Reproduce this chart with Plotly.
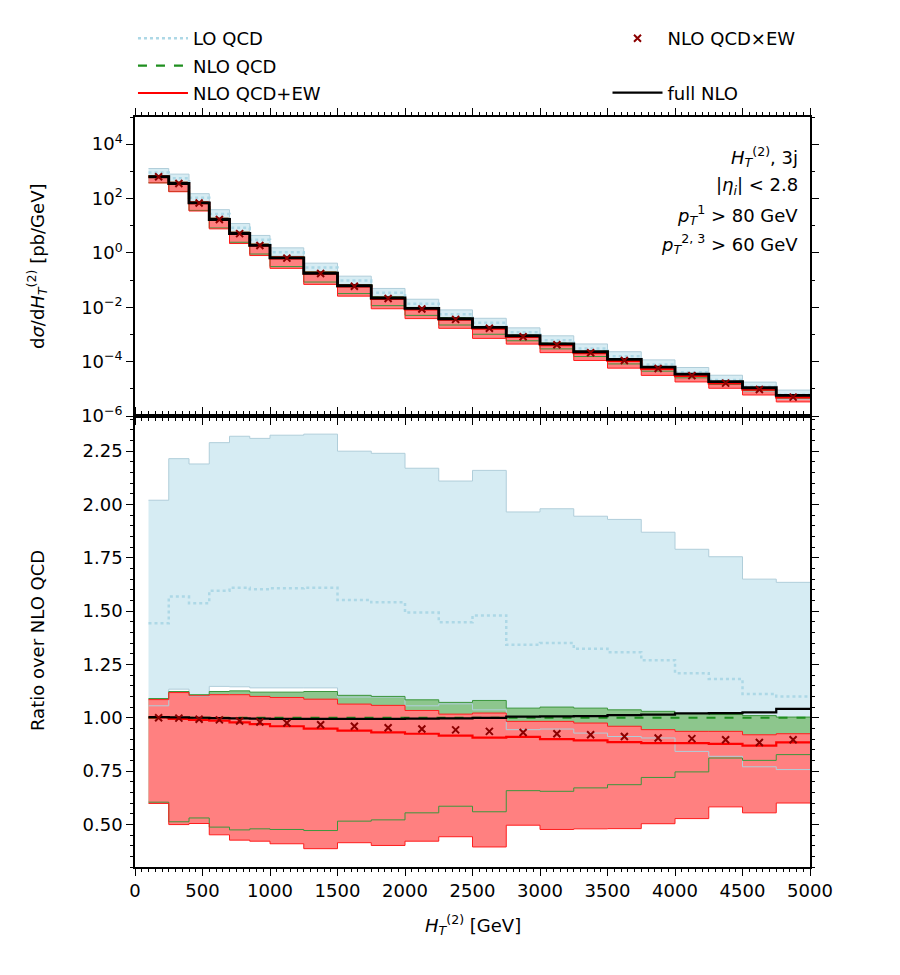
import plotly.graph_objects as go

# ---------------- data ----------------
edges = [100, 250, 400, 550, 700, 850, 1000, 1250, 1500, 1750, 2000, 2250, 2500,
         2750, 3000, 3250, 3500, 3750, 4000, 4250, 4500, 4750, 5000]

# NLO QCD central cross section [pb/GeV]
nlo_qcd_xs = [630, 357, 69, 17, 5.2, 1.9, 0.66, 0.18, 0.062, 0.022, 0.0091, 0.0038,
              1.82e-3, 8.9e-4, 4.5e-4, 2.3e-4, 1.2e-4, 6.2e-5, 3.4e-5, 1.8e-5, 1.07e-5, 5.5e-6]

# ratios over NLO QCD
lo_central = [1.443, 1.568, 1.537, 1.596, 1.610, 1.602, 1.607, 1.610, 1.552, 1.541, 1.493,
              1.448, 1.480, 1.342, 1.350, 1.323, 1.307, 1.270, 1.209, 1.182, 1.111, 1.100]
lo_up = [2.02, 2.215, 2.19, 2.29, 2.32, 2.31, 2.325, 2.33, 2.25, 2.24, 2.17,
         2.11, 2.16, 1.965, 1.98, 1.945, 1.93, 1.87, 1.79, 1.755, 1.65, 1.635]
lo_dn = [1.056, 1.134, 1.10, 1.147, 1.145, 1.14, 1.14, 1.14, 1.097, 1.097, 1.056,
         1.065, 1.037, 0.944, 0.947, 0.928, 0.912, 0.905, 0.842, 0.819, 0.770, 0.757]

nlo_central = [1.0] * 22
nlo_up = [1.09, 1.123, 1.108, 1.123, 1.126, 1.12, 1.12, 1.123, 1.105, 1.10, 1.084,
          1.072, 1.081, 1.045, 1.05, 1.045, 1.037, 1.03, 1.02, 1.015, 1.01, 1.003]
nlo_dn = [0.604, 0.512, 0.53, 0.487, 0.474, 0.479, 0.476, 0.471, 0.515, 0.521, 0.554,
          0.585, 0.559, 0.658, 0.655, 0.671, 0.686, 0.72, 0.746, 0.811, 0.80, 0.827]

ew_central = [1.001, 0.995, 0.99, 0.986, 0.978, 0.97, 0.96, 0.949, 0.94, 0.931, 0.925,
              0.916, 0.907, 0.91, 0.90, 0.894, 0.886, 0.881, 0.881, 0.877, 0.869, 0.884]
ew_up = [1.085, 1.118, 1.103, 1.108, 1.108, 1.10, 1.095, 1.087, 1.064, 1.058, 1.034,
         1.017, 1.022, 0.983, 0.983, 0.975, 0.96, 0.944, 0.936, 0.936, 0.92, 0.925]
ew_dn = [0.598, 0.499, 0.504, 0.451, 0.426, 0.421, 0.409, 0.386, 0.414, 0.401, 0.421,
         0.442, 0.394, 0.496, 0.476, 0.479, 0.48, 0.503, 0.527, 0.582, 0.554, 0.60]

full_nlo = [1.003, 1.002, 1.0, 0.998, 0.997, 0.996, 0.995, 0.995, 0.995, 0.995, 0.996,
            0.997, 0.999, 1.005, 1.006, 1.008, 1.012, 1.015, 1.02, 1.022, 1.025, 1.042]
qcd_x_ew = [1.0, 0.998, 0.993, 0.99, 0.985, 0.98, 0.975, 0.967, 0.96, 0.953, 0.947,
            0.943, 0.936, 0.931, 0.925, 0.92, 0.912, 0.905, 0.902, 0.897, 0.884, 0.897]

top_tickvals = [1e-6, 1e-4, 1e-2, 1e0, 1e2, 1e4]
top_ticktext = ["10<sup>−6</sup>", "10<sup>−4</sup>", "10<sup>−2</sup>",
                "10<sup>0</sup>", "10<sup>2</sup>", "10<sup>4</sup>"]
top_minor = [1e-5, 1e-3, 1e-1, 1e1, 1e3, 1e5]
ratio_tickvals = [0.5, 0.75, 1.0, 1.25, 1.5, 1.75, 2.0, 2.25]
ratio_ticktext = ["0.50", "0.75", "1.00", "1.25", "1.50", "1.75", "2.00", "2.25"]

# ---------------- styling ----------------
FONT = "DejaVu Sans"
LB = "#add8e6"
LB_FILL = "rgb(214,236,243)"
LB_EDGE = "rgb(176,206,218)"
G_FILL = "rgb(141,198,141)"
G_EDGE = "rgb(60,150,60)"
R_FILL = "rgb(255,128,128)"
R_EDGE = "rgb(255,30,30)"
DARKRED = "#8b0000"


def step(v):
    return list(v) + [v[-1]]


centers = [(edges[i] + edges[i + 1]) / 2 for i in range(len(edges) - 1)]

fig = go.Figure()


def add_panel(scale, xa, ya, lw_scale, legend):
    def sc(r):
        return [a * b for a, b in zip(r, scale)]

    # bands (fills)
    for dn, up, fc in [(lo_dn, lo_up, LB_FILL), (nlo_dn, nlo_up, G_FILL), (ew_dn, ew_up, R_FILL)]:
        fig.add_trace(go.Scatter(x=edges, y=step(sc(dn)), mode="lines", line=dict(width=0, shape="hv"),
                                 showlegend=False, hoverinfo="skip", xaxis=xa, yaxis=ya))
        fig.add_trace(go.Scatter(x=edges, y=step(sc(up)), mode="lines", line=dict(width=0, shape="hv"),
                                 fill="tonexty", fillcolor=fc, showlegend=False, hoverinfo="skip",
                                 xaxis=xa, yaxis=ya))
    # band edges
    for arr, col in [(lo_dn, LB_EDGE), (lo_up, LB_EDGE), (nlo_dn, G_EDGE), (nlo_up, G_EDGE),
                     (ew_dn, R_EDGE), (ew_up, R_EDGE)]:
        fig.add_trace(go.Scatter(x=edges, y=step(sc(arr)), mode="lines",
                                 line=dict(width=1, shape="hv", color=col),
                                 showlegend=False, hoverinfo="skip", xaxis=xa, yaxis=ya))
    # central lines
    fig.add_trace(go.Scatter(x=edges, y=step(sc(lo_central)), mode="lines", name="LO QCD",
                             line=dict(width=2.5, shape="hv", color=LB, dash="dot"),
                             showlegend=legend, legend="legend", legendgroup="a", legendrank=1,
                             xaxis=xa, yaxis=ya))
    fig.add_trace(go.Scatter(x=edges, y=step(sc(nlo_central)), mode="lines", name="NLO QCD",
                             line=dict(width=2.2, shape="hv", color="#1f8f1f", dash="dash"),
                             showlegend=legend, legend="legend", legendgroup="b", legendrank=2,
                             xaxis=xa, yaxis=ya))
    fig.add_trace(go.Scatter(x=edges, y=step(sc(ew_central)), mode="lines", name="NLO QCD+EW",
                             line=dict(width=2.2, shape="hv", color="red"),
                             showlegend=legend, legend="legend", legendgroup="c", legendrank=3,
                             xaxis=xa, yaxis=ya))
    fig.add_trace(go.Scatter(x=edges, y=step(sc(full_nlo)), mode="lines", name="full NLO",
                             line=dict(width=2.2 * lw_scale, shape="hv", color="black"),
                             showlegend=legend, legend="legend2", legendgroup="e", legendrank=5,
                             xaxis=xa, yaxis=ya))
    fig.add_trace(go.Scatter(x=centers, y=sc(qcd_x_ew), mode="markers", name="NLO QCD×EW",
                             marker=dict(symbol="x-thin", size=7, line=dict(width=2, color=DARKRED),
                                         color=DARKRED),
                             showlegend=legend, legend="legend2", legendgroup="d", legendrank=4,
                             xaxis=xa, yaxis=ya))


add_panel(nlo_qcd_xs, "x2", "y2", 1.3, False)
add_panel([1.0] * 22, "x", "y", 1.0, True)

SPLIT = 451 / 750

axis_common = dict(showline=True, linewidth=1.5, linecolor="black", mirror="allticks",
                   ticks="outside", ticklen=7, tickwidth=1.3, tickcolor="black",
                   showgrid=False, zeroline=False,
                   tickfont=dict(family=FONT, size=18, color="black"))

fig.update_layout(
    width=900, height=975,
    margin=dict(l=135, r=90, t=117, b=108),
    plot_bgcolor="white", paper_bgcolor="white",
    font=dict(family=FONT, size=18, color="black"),
    xaxis=dict(domain=[0, 1], range=[0, 5000], anchor="y", tickvals=list(range(0, 5001, 500)),
               minor=dict(dtick=50, tick0=0, ticklen=3.5, tickwidth=1, tickcolor="black", ticks="outside"),
               **axis_common),
    xaxis2=dict(domain=[0, 1], range=[0, 5000], anchor="y2", matches="x", showticklabels=False,
                tickvals=list(range(0, 5001, 500)),
                minor=dict(dtick=50, tick0=0, ticklen=3.5, tickwidth=1, tickcolor="black", ticks="outside"),
                **axis_common),
    yaxis=dict(domain=[0, SPLIT], range=[0.30, 2.415], anchor="x",
               tickvals=ratio_tickvals, ticktext=ratio_ticktext,
               minor=dict(dtick=0.05, tick0=0, ticklen=3.5, tickwidth=1, tickcolor="black", ticks="outside"),
               **axis_common),
    yaxis2=dict(domain=[SPLIT, 1], type="log", range=[-6, 5], anchor="x2",
                tickvals=top_tickvals, ticktext=top_ticktext,
                minor=dict(tickvals=top_minor, ticklen=3.5, tickwidth=1, tickcolor="black", ticks="outside"),
                **axis_common),
    legend=dict(x=-0.003, y=(867 - 20) / 750, xanchor="left", yanchor="top", traceorder="grouped",
                tracegroupgap=1, itemwidth=50, bgcolor="rgba(0,0,0,0)",
                font=dict(family=FONT, size=18, color="black")),
    legend2=dict(x=0.700, y=(867 - 20) / 750, xanchor="left", yanchor="top", traceorder="grouped",
                 tracegroupgap=28, itemwidth=50, bgcolor="rgba(0,0,0,0)",
                 font=dict(family=FONT, size=18, color="black")),
)

ann = []
info_lines = [
    "<i>H</i><sub><i>T</i></sub><sup>(2)</sup>, 3j",
    "|<i>η</i><sub><i>i</i></sub>| < 2.8",
    "<i>p</i><sub><i>T</i></sub><sup>1</sup> > 80 GeV",
    "<i>p</i><sub><i>T</i></sub><sup>2, 3</sup> > 60 GeV",
]
for i, t in enumerate(info_lines):
    ypx = 157 + i * 29
    ann.append(dict(text=t, x=(800 - 135) / 675, y=(867 - ypx) / 750, xref="paper", yref="paper",
                    xanchor="right", yanchor="middle", showarrow=False,
                    font=dict(family=FONT, size=18, color="black")))
ann.append(dict(text="d<i>σ</i>/d<i>H</i><sub><i>T</i></sub><sup>(2)</sup> [pb/GeV]",
                x=(37 - 135) / 675, y=(867 - 267) / 750, xref="paper", yref="paper",
                xanchor="center", yanchor="middle", textangle=-90, showarrow=False,
                font=dict(family=FONT, size=18, color="black")))
ann.append(dict(text="Ratio over NLO QCD",
                x=(37 - 135) / 675, y=(867 - 641) / 750, xref="paper", yref="paper",
                xanchor="center", yanchor="middle", textangle=-90, showarrow=False,
                font=dict(family=FONT, size=18, color="black")))
ann.append(dict(text="<i>H</i><sub><i>T</i></sub><sup>(2)</sup> [GeV]",
                x=0.5, y=(867 - 925) / 750, xref="paper", yref="paper",
                xanchor="center", yanchor="middle", showarrow=False,
                font=dict(family=FONT, size=18, color="black")))
fig.update_layout(annotations=ann)

fig.write_html("out.html")
